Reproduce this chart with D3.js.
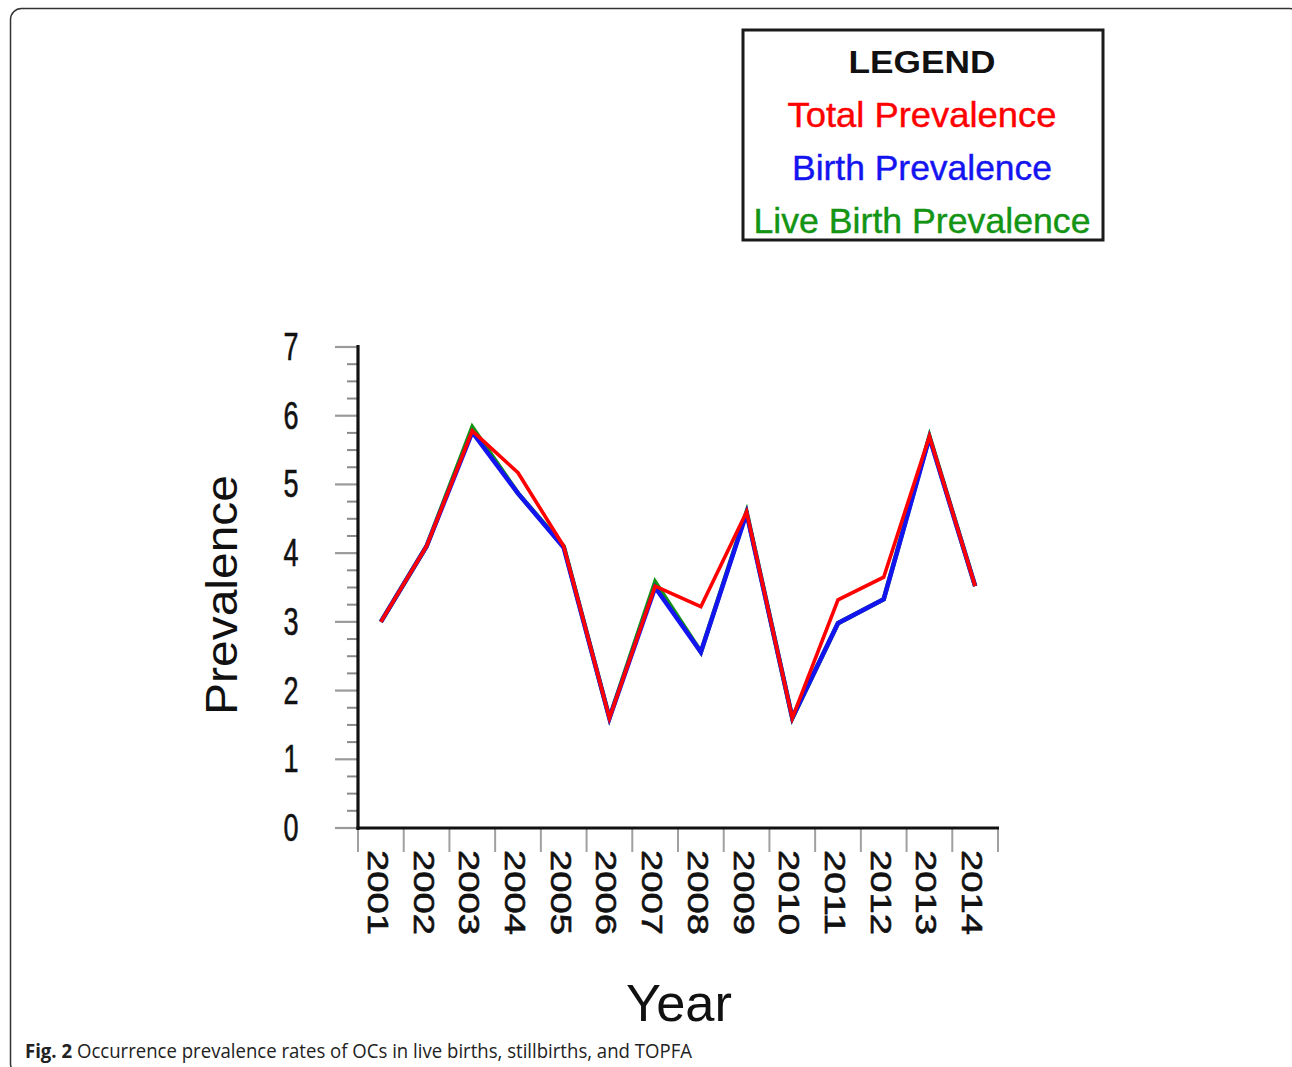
<!DOCTYPE html>
<html>
<head>
<meta charset="utf-8">
<script src="https://cdn.jsdelivr.net/npm/d3@7"></script>
<style>
  html, body { margin: 0; padding: 0; background: #fff; }
  svg { display: block; }
</style>
</head>
<body>
<svg id="chart" width="1292" height="1067"></svg>
<script>
// ---- data ----
const years = ["2001","2002","2003","2004","2005","2006","2007","2008","2009","2010","2011","2012","2013","2014"];
const totalPrevalence     = [3.0, 4.1, 5.78, 5.17, 4.1, 1.6, 3.52, 3.22, 4.6, 1.6, 3.32, 3.65, 5.7, 3.52];
const birthPrevalence     = [3.0, 4.1, 5.76, 4.87, 4.08, 1.6, 3.5, 2.56, 4.58, 1.6, 2.98, 3.33, 5.68, 3.52];
const liveBirthPrevalence = [3.0, 4.1, 5.83, 4.87, 4.1, 1.6, 3.58, 2.56, 4.6, 1.6, 2.98, 3.33, 5.7, 3.52];
const yTicks = [0, 1, 2, 3, 4, 5, 6, 7];
const legendLabels = ["Total Prevalence", "Birth Prevalence", "Live Birth Prevalence"];
const seriesColors = ["#ff0000", "#1414f0", "#139413"];

const svg = d3.select("#chart");
const font = "Arial, 'Liberation Sans', Helvetica, sans-serif";

// outer rounded frame
svg.append("rect")
  .attr("x", 10.5).attr("y", 8.5).attr("width", 1290).attr("height", 1066)
  .attr("rx", 11).attr("fill", "none").attr("stroke", "#333").attr("stroke-width", 1.5);

// scales
const x = d3.scaleBand().domain(years).range([358, 998]);
const y = d3.scaleLinear().domain([0, 7]).range([828, 347]);

// y minor ticks
const minor = d3.range(0, 7.0001, 0.25).filter(v => Math.abs(v - Math.round(v)) > 1e-6);
svg.append("g").selectAll("line").data(minor).join("line")
  .attr("x1", 347).attr("x2", 358)
  .attr("y1", d => y(d)).attr("y2", d => y(d))
  .attr("stroke", "#8a8a8a").attr("stroke-width", 2);
// y major ticks
svg.append("g").selectAll("line").data(yTicks).join("line")
  .attr("x1", 335).attr("x2", 358)
  .attr("y1", d => y(d)).attr("y2", d => y(d))
  .attr("stroke", "#9a9a9a").attr("stroke-width", 2.2);
// y tick labels (condensed)
svg.append("g").selectAll("text").data(yTicks).join("text")
  .attr("x", 291).attr("y", d => y(d) + 13)
  .attr("text-anchor", "middle")
  .attr("font-family", font).attr("font-size", 38)
  .attr("textLength", 15).attr("lengthAdjust", "spacingAndGlyphs")
  .attr("fill", "#111").attr("stroke", "#111").attr("stroke-width", 0.6)
  .text(d => d);

// x ticks (band boundaries)
const xBounds = years.map(d => x(d)).concat([x.range()[1]]);
svg.append("g").selectAll("line").data(xBounds).join("line")
  .attr("x1", d => d).attr("x2", d => d)
  .attr("y1", 828).attr("y2", 852)
  .attr("stroke", "#a0a0a0").attr("stroke-width", 2);

// axis lines
svg.append("line").attr("x1", 358).attr("x2", 358).attr("y1", 345).attr("y2", 830)
  .attr("stroke", "#111").attr("stroke-width", 3.2);
svg.append("line").attr("x1", 356.5).attr("x2", 999).attr("y1", 828).attr("y2", 828)
  .attr("stroke", "#111").attr("stroke-width", 3.2);

// x tick labels rotated 90deg
svg.append("g").selectAll("text").data(years).join("text")
  .attr("transform", d => `translate(${x(d) + x.bandwidth()/2 - 13},850) rotate(90)`)
  .attr("text-anchor", "start")
  .attr("font-family", font).attr("font-size", 29)
  .attr("textLength", 85).attr("lengthAdjust", "spacingAndGlyphs")
  .attr("fill", "#111").attr("stroke", "#111").attr("stroke-width", 0.6)
  .text(d => d);

// lines
const line = d3.line()
  .x((d, i) => x(years[i]) + x.bandwidth()/2)
  .y(d => y(d));
const seriesData = [liveBirthPrevalence, birthPrevalence, totalPrevalence];
const seriesDrawColors = [seriesColors[2], seriesColors[1], seriesColors[0]];
const widths = [4.5, 4.5, 3.6];
svg.append("g").selectAll("path").data(seriesData).join("path")
  .attr("d", d => line(d))
  .attr("fill", "none")
  .attr("stroke", (d, i) => seriesDrawColors[i])
  .attr("stroke-width", (d, i) => widths[i])
  .attr("stroke-linejoin", "miter");

// axis titles
svg.append("text")
  .attr("transform", "translate(237,595) rotate(-90)")
  .attr("text-anchor", "middle")
  .attr("font-family", font).attr("font-size", 44)
  .attr("textLength", 240).attr("lengthAdjust", "spacingAndGlyphs")
  .attr("fill", "#111")
  .text("Prevalence");
svg.append("text")
  .attr("x", 679).attr("y", 1021)
  .attr("text-anchor", "middle")
  .attr("font-family", font).attr("font-size", 52)
  .attr("textLength", 106).attr("lengthAdjust", "spacingAndGlyphs")
  .attr("fill", "#111")
  .text("Year");

// legend
svg.append("rect")
  .attr("x", 743).attr("y", 30).attr("width", 360).attr("height", 210)
  .attr("fill", "#fff").attr("stroke", "#1a1a1a").attr("stroke-width", 3);
svg.append("text")
  .attr("x", 922).attr("y", 73).attr("text-anchor", "middle")
  .attr("font-family", font).attr("font-size", 31).attr("font-weight", "bold")
  .attr("textLength", 147).attr("lengthAdjust", "spacingAndGlyphs")
  .attr("fill", "#111").text("LEGEND");
const legendY = [127, 180, 233];
const legendLen = [269, 260, 337];
svg.append("g").selectAll("text").data(legendLabels).join("text")
  .attr("x", 922).attr("y", (d, i) => legendY[i]).attr("text-anchor", "middle")
  .attr("font-family", font).attr("font-size", 35)
  .attr("textLength", (d, i) => legendLen[i]).attr("lengthAdjust", "spacingAndGlyphs")
  .attr("fill", (d, i) => seriesColors[i])
  .attr("stroke", (d, i) => seriesColors[i]).attr("stroke-width", 0.4)
  .text(d => d);

// caption
const cap = svg.append("text")
  .attr("x", 25).attr("y", 1058)
  .attr("font-family", "'Open Sans', 'Noto Sans', sans-serif").attr("font-size", 20)
  .attr("fill", "#222");
cap.append("tspan").attr("font-weight", "bold").text("Fig. 2");
cap.append("tspan").text(" Occurrence prevalence rates of OCs in live births, stillbirths, and TOPFA");
cap.attr("textLength", 667).attr("lengthAdjust", "spacingAndGlyphs");
</script>
</body>
</html>
